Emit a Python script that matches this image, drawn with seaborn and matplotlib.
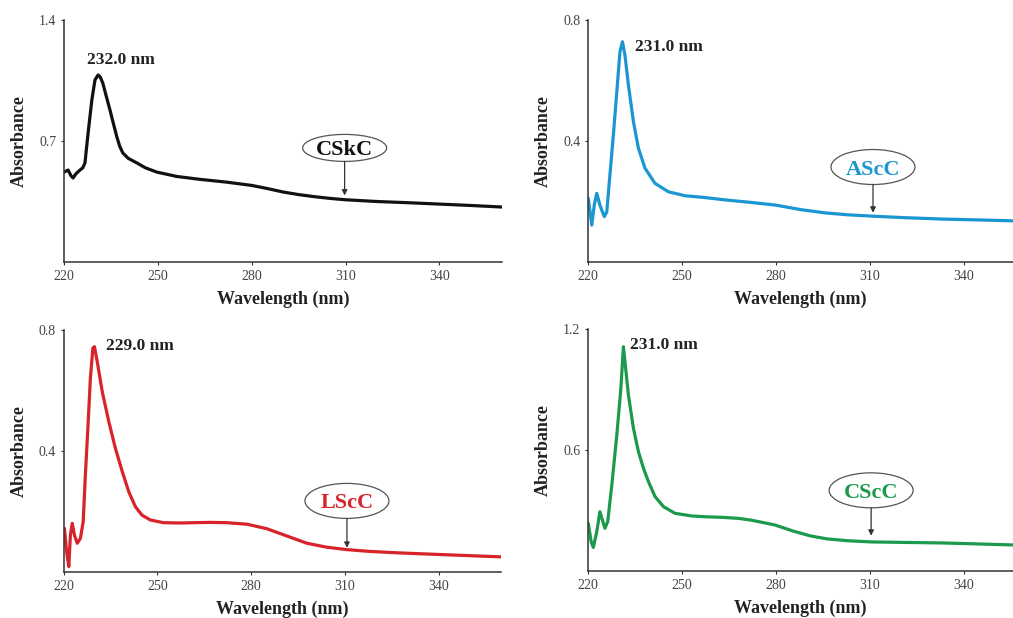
import numpy as np
import pandas as pd
import seaborn as sns
import matplotlib.pyplot as plt
from matplotlib.patches import Ellipse

# ---- data ----
wl_cskc = [220, 221.3, 222.2, 222.9, 223.8, 225.1, 226.0, 226.7, 227.7, 228.9, 229.9, 230.9, 231.6,
           232.4, 233.5, 234.7, 235.8, 236.9, 237.8, 238.8, 240.5, 243.3, 246, 249.7, 256, 263.5,
           272, 280, 285, 290, 295, 300, 305, 310, 320, 330, 340, 350, 360]
abs_cskc = [0.52, 0.532, 0.50, 0.486, 0.51, 0.532, 0.545, 0.573, 0.746, 0.937, 1.053, 1.082, 1.07,
            1.035, 0.96, 0.879, 0.80, 0.723, 0.67, 0.631, 0.60, 0.573, 0.545, 0.52, 0.495, 0.478,
            0.462, 0.443, 0.425, 0.405, 0.39, 0.378, 0.368, 0.36, 0.35, 0.343, 0.335, 0.327, 0.318]

wl_ascc = [220.1, 221.2, 222.0, 222.8, 223.8, 225.2, 226.0, 227.0, 228.1, 229.2, 230.2, 231.0,
           231.8, 232.9, 234.5, 236.1, 238.2, 241.4, 245.7, 251.0, 257.4, 264, 272, 280, 288,
           296, 303, 310, 320, 333, 345, 356]
abs_ascc = [0.21, 0.122, 0.188, 0.227, 0.188, 0.150, 0.166, 0.288, 0.42, 0.563, 0.695, 0.728,
            0.684, 0.585, 0.464, 0.376, 0.31, 0.26, 0.232, 0.219, 0.213, 0.205, 0.197, 0.188, 0.173,
            0.162, 0.156, 0.152, 0.147, 0.142, 0.139, 0.136]

wl_lscc = [220.3, 221.0, 221.7, 222.2, 222.8, 223.5, 224.4, 225.4, 226.3, 227.0, 227.8, 228.6,
           229.4, 229.9, 230.8, 232.4, 234.5, 236.6, 238.8, 240.9, 243.0, 245.1, 247.8, 252.0,
           257.4, 261.5, 267, 272.3, 278.7, 285.1, 291.5, 297.9, 304.2, 310.6, 318, 327.7, 340,
           350, 360]
abs_lscc = [0.144, 0.067, 0.018, 0.122, 0.161, 0.122, 0.095, 0.111, 0.166, 0.321, 0.475, 0.640,
            0.740, 0.745, 0.695, 0.596, 0.497, 0.409, 0.332, 0.265, 0.216, 0.188, 0.172, 0.163,
            0.162, 0.163, 0.164, 0.163, 0.158, 0.143, 0.119, 0.095, 0.082, 0.074, 0.068, 0.063,
            0.058, 0.054, 0.05]

wl_cscc = [220.1, 221.0, 221.7, 222.8, 223.8, 224.6, 225.4, 226.3, 227.6, 229.2, 230.5, 231.3,
           231.8, 232.9, 234.5, 236.1, 237.7, 239.3, 241.4, 244.1, 247.8, 253.1, 257.4, 263, 268,
           271.8, 276, 279.7, 285.5, 291, 296.4, 303, 310.7, 320, 333.4, 345, 356]
abs_cscc = [0.236, 0.145, 0.117, 0.195, 0.294, 0.253, 0.212, 0.245, 0.426, 0.674, 0.906, 1.112,
            1.038, 0.873, 0.708, 0.592, 0.510, 0.443, 0.369, 0.319, 0.286, 0.273, 0.269, 0.266,
            0.261, 0.253, 0.24, 0.228, 0.198, 0.174, 0.159, 0.15, 0.144, 0.142, 0.139, 0.134, 0.129]

sample_names = ["CSkC", "AScC", "LScC", "CScC"]
peak_labels = ["232.0 nm", "231.0 nm", "229.0 nm", "231.0 nm"]
y_maxes = [1.4, 0.8, 0.8, 1.2]
x_ticks = [220, 250, 280, 310, 340]

sns.set_theme(style="ticks")
plt.rcParams['font.family'] = ['Liberation Serif', 'DejaVu Serif']

W, H = 1013, 618
fig = plt.figure(figsize=(W / 100, H / 100), dpi=100)
fig.patch.set_facecolor("white")

panels = [
    dict(x=wl_cskc, y=abs_cskc, color="#111111", rect=(64, 20, 502, 262), xmax=360,
         peak_xy=(227.5, 1.17), ell_xy=(309.7, 0.66), ell_h=27, tip=0.385),
    dict(x=wl_ascc, y=abs_ascc, color="#1a96d2", rect=(588, 20, 1013, 262), xmax=355.7,
         peak_xy=(235.0, 0.71), ell_xy=(311.0, 0.314), ell_h=35, tip=0.163),
    dict(x=wl_lscc, y=abs_lscc, color="#d8232a", rect=(63.5, 330, 501, 572), xmax=360,
         peak_xy=(233.7, 0.746), ell_xy=(310.7, 0.235), ell_h=35, tip=0.08),
    dict(x=wl_cscc, y=abs_cscc, color="#1b9a4b", rect=(588, 329, 1013, 571), xmax=355.7,
         peak_xy=(233.4, 1.12), ell_xy=(310.4, 0.40), ell_h=35, tip=0.175),
]

for i, p in enumerate(panels):
    l, t, r, b = p["rect"]
    ax = fig.add_axes([l / W, 1 - b / H, (r - l) / W, (b - t) / H])
    ax.set_facecolor("white")
    df = pd.DataFrame({"Wavelength": p["x"], "Absorbance": p["y"]})
    sns.lineplot(data=df, x="Wavelength", y="Absorbance", ax=ax, color=p["color"],
                 lw=2.3, sort=True, estimator=None)
    for ln in ax.get_lines():
        ln.set_solid_joinstyle("round")
        ln.set_solid_capstyle("round")
    ymax = y_maxes[i]
    ax.set_xlim(220, p["xmax"])
    ax.set_ylim(0, ymax)
    ax.set_xticks(x_ticks)
    ax.set_yticks([ymax / 2, ymax])
    ax.set_yticklabels([f"{ymax / 2:.1f}", f"{ymax:.1f}"])
    sns.despine(ax=ax)
    for s in ("left", "bottom"):
        ax.spines[s].set_color("#333333")
        ax.spines[s].set_linewidth(1.1)
    ax.tick_params(axis="both", direction="out", length=2.5, width=0.8, color="#333333",
                   labelsize=10, labelcolor="#444444", pad=3)
    ax.set_xlabel("Wavelength (nm)", fontsize=13, fontweight="bold", color="#222222", labelpad=6)
    ax.set_ylabel("Absorbance", fontsize=13, fontweight="bold", color="#222222", labelpad=8)

    # peak annotation
    ax.text(p["peak_xy"][0], p["peak_xy"][1], peak_labels[i], fontsize=12.5, fontweight="bold",
            color="#222222", ha="left", va="center")

    # ellipse label with arrow
    px_per_x = (r - l) / (p["xmax"] - 220)
    px_per_y = (b - t) / ymax
    ew = 84 / px_per_x
    eh = p["ell_h"] / px_per_y
    ex, ey = p["ell_xy"]
    ax.add_patch(Ellipse((ex, ey), ew, eh, facecolor="white", edgecolor="#555555", lw=0.9, zorder=5))
    ax.text(ex, ey, sample_names[i], fontsize=16, fontweight="bold", color=p["color"],
            ha="center", va="center_baseline", zorder=6)
    ax.annotate("", xy=(ex, p["tip"]), xytext=(ex, ey - eh / 2),
                arrowprops=dict(arrowstyle="-|>", color="#333333", lw=0.9, mutation_scale=8,
                                shrinkA=0, shrinkB=0), zorder=6)

fig.savefig("out.png", dpi=100, facecolor="white")
